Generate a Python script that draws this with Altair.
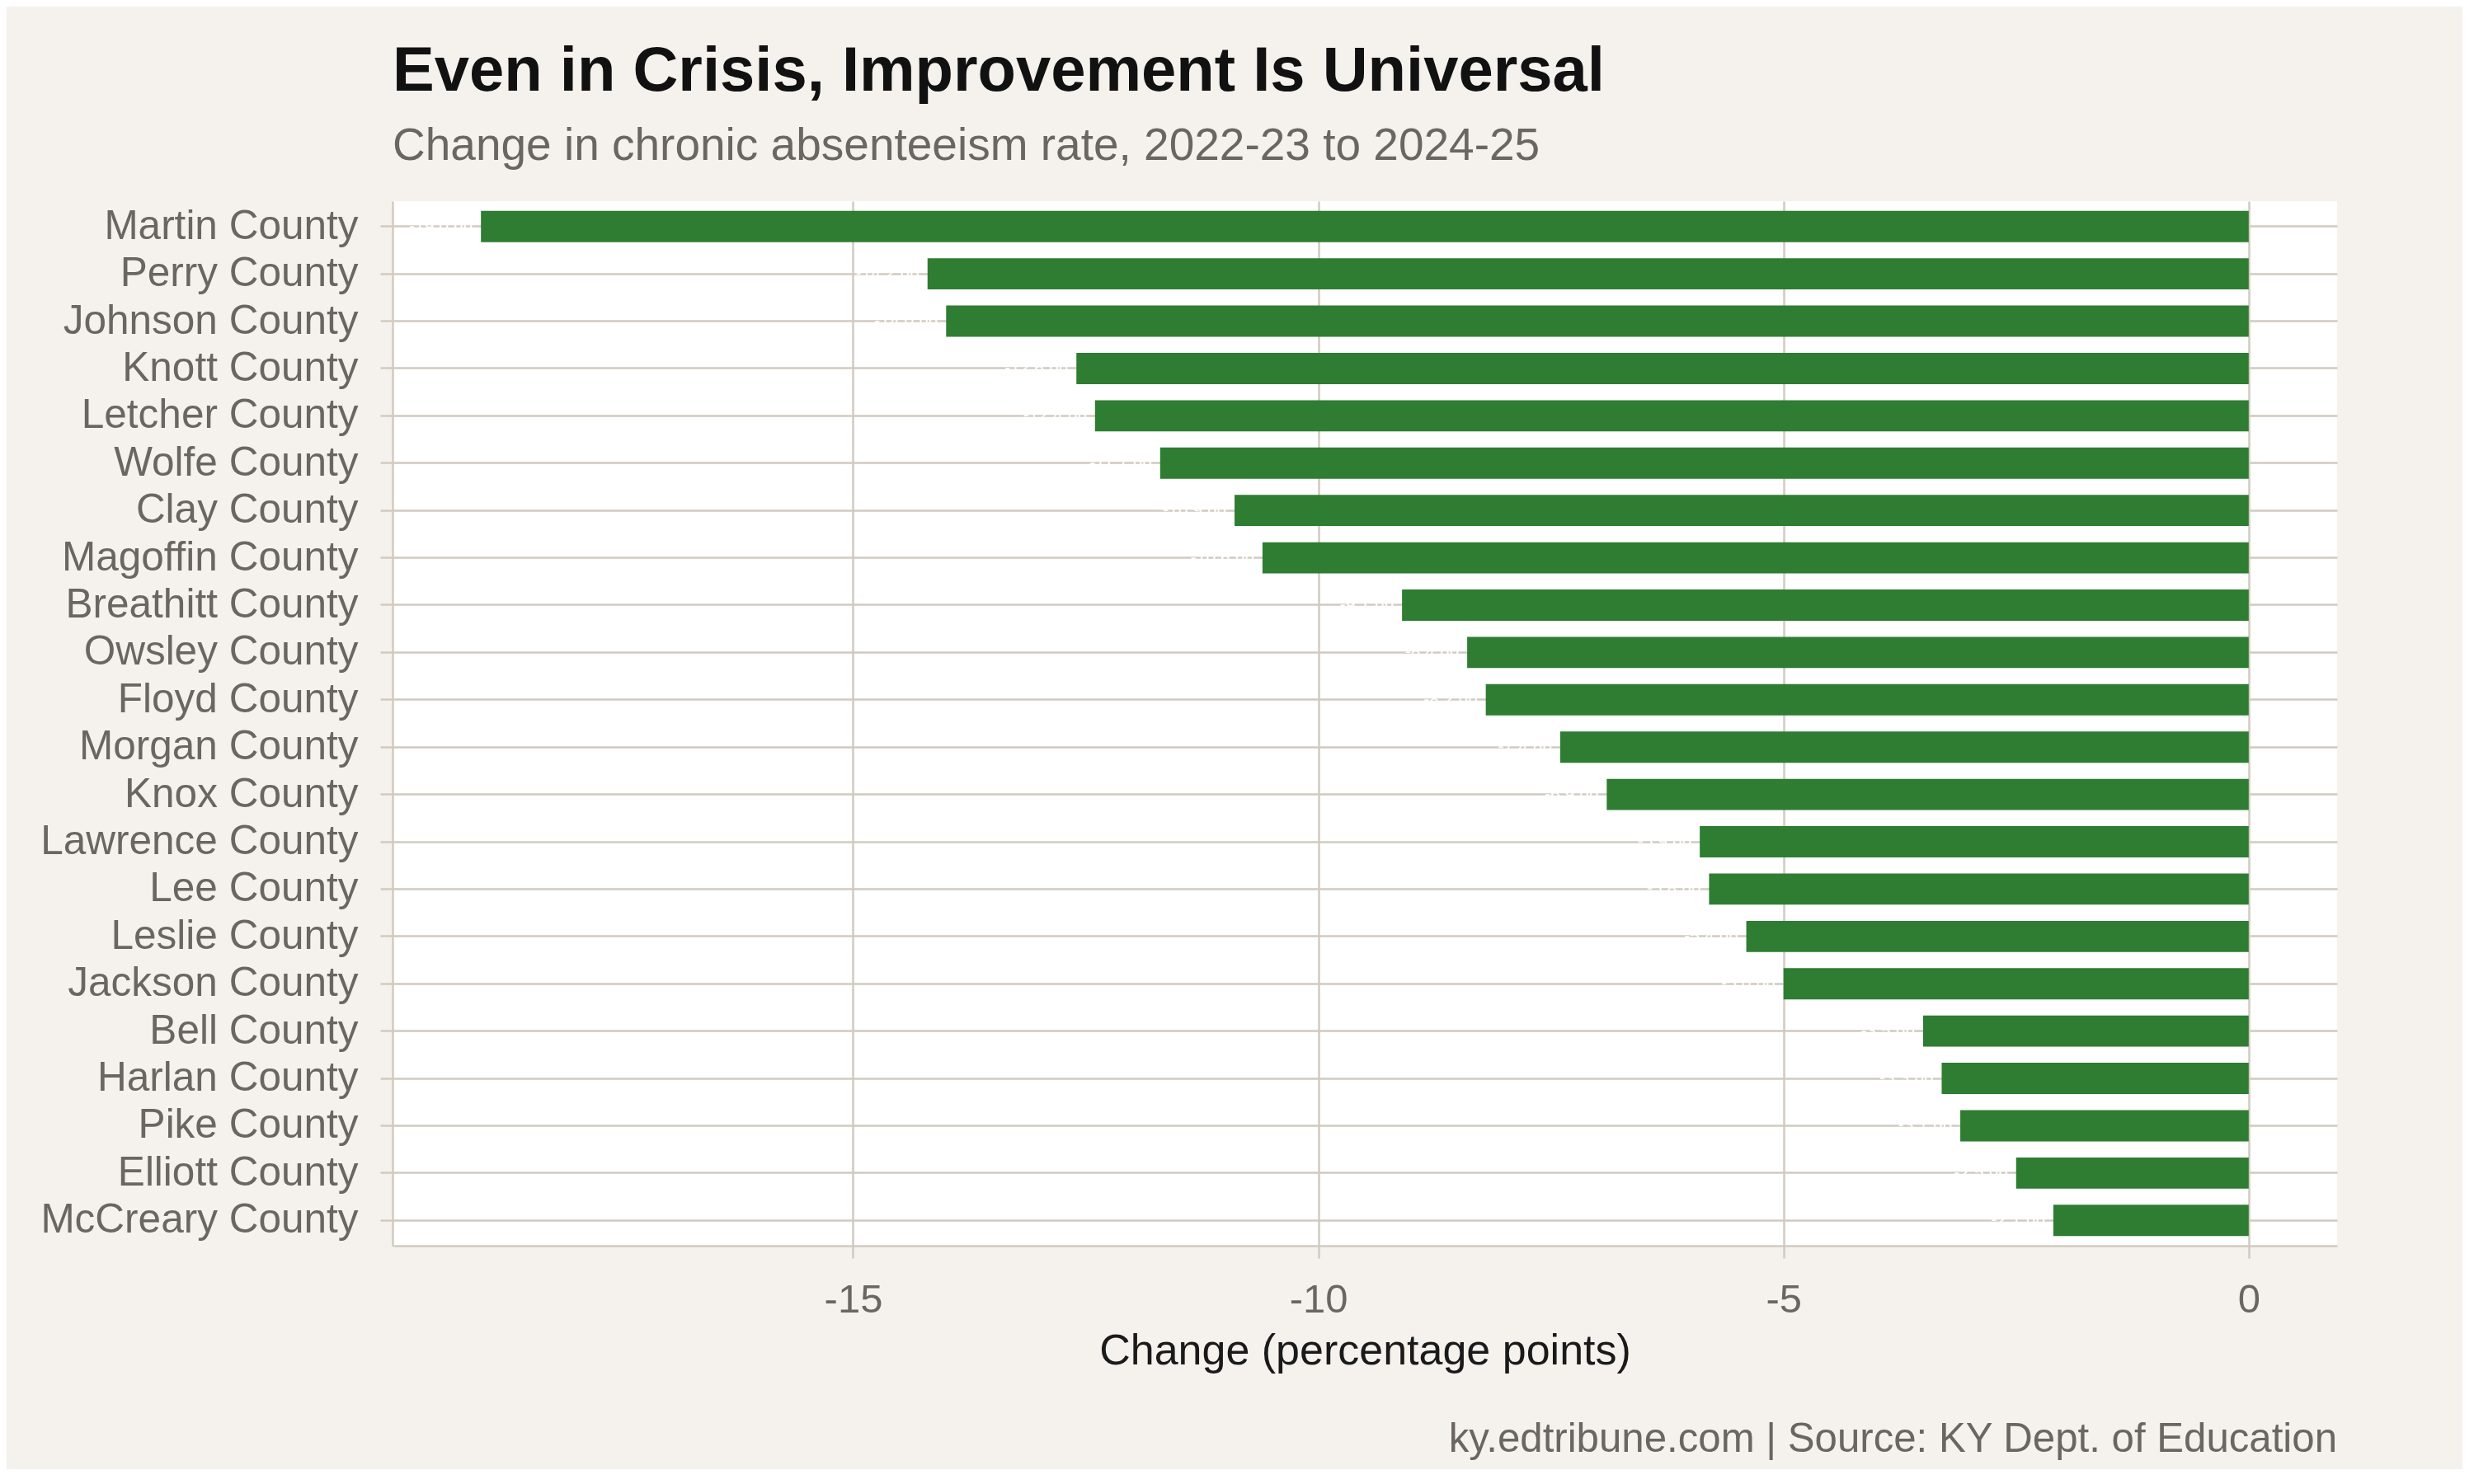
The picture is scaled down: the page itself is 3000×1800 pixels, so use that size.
import altair as alt
import pandas as pd

counties = [
    "Martin County", "Perry County", "Johnson County", "Knott County",
    "Letcher County", "Wolfe County", "Clay County", "Magoffin County",
    "Breathitt County", "Owsley County", "Floyd County", "Morgan County",
    "Knox County", "Lawrence County", "Lee County", "Leslie County",
    "Jackson County", "Bell County", "Harlan County", "Pike County",
    "Elliott County", "McCreary County",
]
changes = [
    -19.0, -14.2, -14.0, -12.6, -12.4, -11.7, -10.9, -10.6, -9.1, -8.4,
    -8.2, -7.4, -6.9, -5.9, -5.8, -5.4, -5.0, -3.5, -3.3, -3.1, -2.5, -2.1,
]
x_ticks = [-15, -10, -5, 0]

df = pd.DataFrame({"county": counties, "change": changes})
df["label"] = [f"{v:.1f} pp" for v in changes]

FONT = "Liberation Sans"
GRID = "#d1cac1"
GRAY = "#6b6661"
W, H = 2358, 1267

x_enc = alt.X(
    "change:Q",
    scale=alt.Scale(domain=[-19.95, 0.95], nice=False, zero=False),
    axis=alt.Axis(
        values=x_ticks,
        labelExpr="'' + datum.value",
        title="Change (percentage points)",
        titleFont=FONT, titleFontSize=52, titleFontWeight="normal",
        titleColor="#1a1a1a", titlePadding=12,
        labelFont=FONT, labelFontSize=49, labelColor=GRAY, labelPadding=26,
        grid=True, gridColor=GRID, gridWidth=2.5,
        domain=True, domainColor=GRID, domainWidth=2.5,
        ticks=True, tickColor=GRID, tickWidth=2.5, tickSize=15,
    ),
)
y_enc = alt.Y(
    "county:N",
    sort=counties,
    scale=alt.Scale(paddingInner=0.34, paddingOuter=0.205),
    axis=alt.Axis(
        title=None,
        labelFont=FONT, labelFontSize=49.5, labelColor=GRAY, labelPadding=27,
        labelLimit=0,
        grid=True, gridColor=GRID, gridWidth=2.5, bandPosition=0.5,
        domain=True, domainColor=GRID, domainWidth=2.5,
        ticks=True, tickColor=GRID, tickWidth=2.5, tickSize=15,
        minExtent=426, maxExtent=426,
    ),
)

bars = alt.Chart(df).mark_bar(color="#2e7d32").encode(x=x_enc, y=y_enc)

labels = alt.Chart(df).mark_text(
    align="right", baseline="middle", dx=-10, color="white",
    font=FONT, fontSize=21,
).encode(x="change:Q", y=alt.Y("county:N", sort=counties), text="label:N")

caption = alt.Chart(pd.DataFrame({"t": ["ky.edtribune.com | Source: KY Dept. of Education"]})).mark_text(
    align="right", baseline="middle", color=GRAY, font=FONT, fontSize=49.2,
).encode(x=alt.value(W), y=alt.value(H + 235), text="t:N")

chart = alt.layer(bars, labels, caption).properties(
    width=W, height=H,
    background="#f5f2ed",
    padding={"left": 40, "top": 41, "right": 152, "bottom": 10},
    title=alt.TitleParams(
        text="Even in Crisis, Improvement Is Universal",
        subtitle="Change in chronic absenteeism rate, 2022-23 to 2024-25",
        anchor="start", frame="group",
        font=FONT, fontSize=76, fontWeight="bold", color="#111111",
        subtitleFont=FONT, subtitleFontSize=55, subtitleColor=GRAY,
        subtitlePadding=25, offset=38,
    ),
).configure_view(fill="white", stroke=None)

chart.save("out.html", embed_options={"renderer": "svg", "actions": False})
